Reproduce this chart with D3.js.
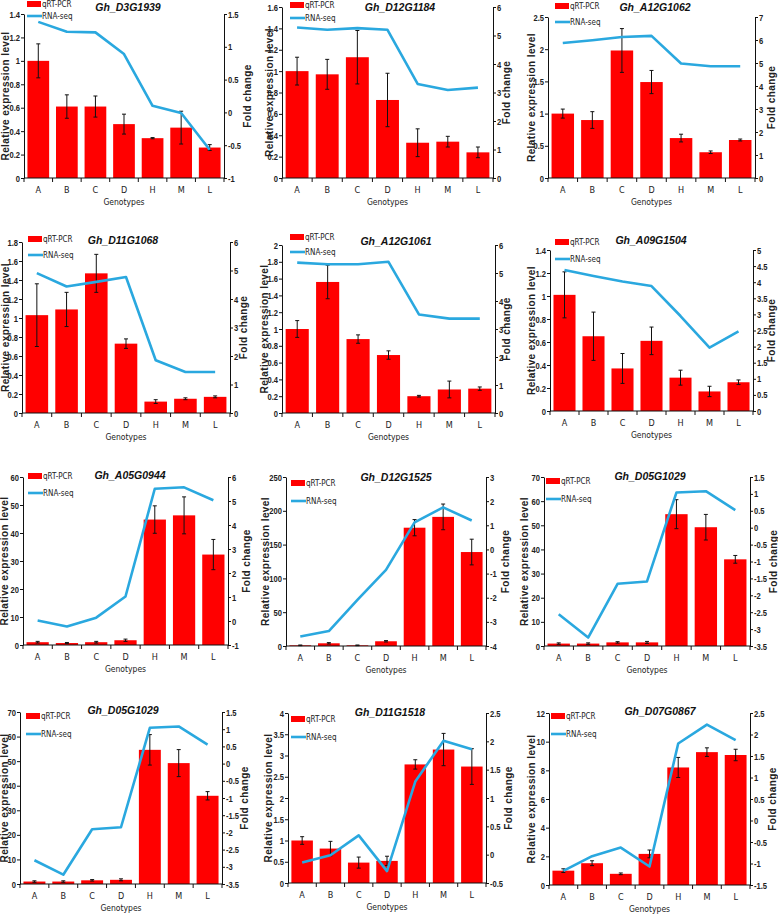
<!DOCTYPE html>
<html>
<head>
<meta charset="utf-8">
<script src="https://cdn.jsdelivr.net/npm/d3@7"></script>
<style>
  body { margin: 0; background: #fff; }
  svg { display: block; }
  .narrow { font-family: "DejaVu Sans Condensed", "Liberation Sans Narrow", sans-serif; }
</style>
</head>
<body>
<script>
// ---- data ----
const genotypes = ['A', 'B', 'C', 'D', 'H', 'M', 'L'];

const geneNames = ['Gh_D3G1939', 'Gh_D12G1184', 'Gh_A12G1062',
                   'Gh_D11G1068', 'Gh_A12G1061', 'Gh_A09G1504',
                   'Gh_A05G0944', 'Gh_D12G1525', 'Gh_D05G1029',
                   'Gh_D05G1029', 'Gh_D11G1518', 'Gh_D07G0867'];

// qRT-PCR relative expression (bars)
const qpcrMeans = [
    [1.0, 0.61, 0.61, 0.46, 0.34, 0.43, 0.26],
    [1.0, 0.97, 1.13, 0.73, 0.33, 0.34, 0.24],
    [1.0, 0.90, 1.98, 1.49, 0.62, 0.40, 0.59],
    [1.03, 1.09, 1.47, 0.73, 0.12, 0.15, 0.17],
    [1.0, 1.56, 0.88, 0.69, 0.20, 0.28, 0.29],
    [1.01, 0.65, 0.37, 0.61, 0.29, 0.17, 0.25],
    [1.0, 0.7, 1.0, 1.7, 44.8, 46.3, 32.3],
    [1.0, 4.0, 1.0, 7.0, 175, 191, 139],
    [1.0, 1.0, 1.5, 1.5, 54.6, 49.2, 35.9],
    [1.0, 1.0, 1.5, 1.7, 54.6, 49.2, 35.9],
    [1.0, 0.81, 0.48, 0.52, 2.79, 3.14, 2.74],
    [1.0, 1.52, 0.78, 2.17, 8.2, 9.27, 9.07]
];

// error bar half-lengths
const qpcrErrors = [
    [0.145, 0.10, 0.09, 0.085, 0.005, 0.14, 0.025],
    [0.13, 0.14, 0.25, 0.25, 0.13, 0.05, 0.05],
    [0.07, 0.13, 0.34, 0.18, 0.06, 0.02, 0.015],
    [0.33, 0.18, 0.20, 0.05, 0.02, 0.01, 0.01],
    [0.10, 0.20, 0.05, 0.05, 0.01, 0.10, 0.02],
    [0.20, 0.21, 0.13, 0.12, 0.065, 0.045, 0.02],
    [0.3, 0.2, 0.3, 0.4, 4.9, 6.6, 5.4],
    [0.5, 1.0, 0.5, 1.0, 12, 19, 19],
    [0.3, 0.3, 0.3, 0.4, 6.0, 5.3, 1.6],
    [0.3, 0.3, 0.3, 0.4, 6.2, 5.5, 1.7],
    [0.09, 0.17, 0.13, 0.11, 0.11, 0.38, 0.42],
    [0.13, 0.17, 0.06, 0.27, 0.7, 0.3, 0.4]
];

// RNA-seq fold change (line)
const rnaSeqFold = [
    [1.38, 1.23, 1.22, 0.89, 0.10, -0.01, -0.57],
    [5.28, 5.20, 5.26, 5.20, 3.30, 3.09, 3.17],
    [5.87, 5.99, 6.13, 6.18, 4.98, 4.86, 4.86],
    [4.91, 4.44, 4.60, 4.77, 1.85, 1.44, 1.44],
    [5.37, 5.31, 5.31, 5.40, 3.52, 3.37, 3.37],
    [4.38, 4.19, 4.02, 3.88, 2.95, 1.97, 2.47],
    [0.02, -0.23, 0.14, 1.02, 5.51, 5.57, 5.03],
    [-3.61, -3.38, -2.09, -0.85, 1.12, 1.74, 1.20],
    [-2.56, -3.25, -1.66, -1.59, 1.04, 1.08, 0.52],
    [-2.81, -3.23, -1.91, -1.85, 1.04, 1.08, 0.55],
    [-0.14, -0.01, 0.34, -0.29, 1.29, 2.01, 1.86],
    [-1.17, -0.83, -0.63, -1.07, 1.79, 2.23, 1.87]
];

// axis ranges / tick steps
const leftMax   = [1.4, 1.6, 2.5, 1.8, 2, 1.4, 60, 250, 70, 70, 4, 12];
const leftStep  = [0.2, 0.2, 0.5, 0.2, 0.2, 0.2, 10, 50, 10, 10, 0.5, 2];
const rightMin  = [-1, 0, 0, 0, 0, 0, -1, -4, -3.5, -3.5, -0.5, -1.5];
const rightMax  = [1.5, 6, 7, 6, 6, 5, 6, 3, 1.5, 1.5, 2.5, 2.5];
const rightStep = [0.5, 1, 1, 1, 1, 0.5, 1, 1, 0.5, 0.5, 0.5, 0.5];

// ---- layout (pixel boxes of each panel) ----
// plot box [left, top, right, bottom]
const plotBox = [
    [24, 14, 224, 178], [282, 7, 493, 178], [548, 17, 755, 178],
    [22, 242, 230, 413], [282, 245, 495, 413], [550, 250, 753, 411],
    [23, 477, 228, 645], [286, 477, 486, 646], [544, 477, 750, 646],
    [20, 712, 222, 884], [288, 713, 486, 883], [549, 713, 750, 885]
];
// title centre [x, y]
const titlePos = [
    [128, 7], [400, 7], [655, 7],
    [123, 240], [396, 241], [651, 240],
    [130, 475], [396, 477], [650, 476],
    [123, 710], [390, 712], [660, 711]
];
// legend [x, y of first item, y of second item]
const legendPos = [
    [27, 4, 16], [290, 5, 18], [555, 6, 22],
    [28, 239, 255], [290, 237, 252], [555, 242, 259],
    [28, 476, 493], [291, 483, 501], [546, 481, 499],
    [26, 716, 734], [291, 719, 737], [551, 716, 734]
];
const yLabelX = [5, 269, 531, 5, 264, 531, 4, 265, 524, 4, 268, 531];
const fcLabelX = [247, 506, 771, 243, 506, 771, 246, 505, 773, 244, 508, 772];

const barColor = '#ff0000';
const lineColor = '#2aa8df';

let svg = d3.select('body').append('svg')
    .attr('width', 778)
    .attr('height', 915)
    .style('background', '#fff');

function fmt(d) {
    return String(+d.toFixed(2));
}

function ticksFor(lo, hi, step) {
    let n = Math.round((hi - lo) / step);
    return d3.range(n + 1).map(k => +(lo + k * step).toFixed(4));
}

geneNames.forEach(function(gene, i) {
    let [x0, y0, x1, y1] = plotBox[i];
    let g = svg.append('g').attr('class', 'panel');

    let xScale = d3.scaleBand().domain(genotypes).range([x0, x1])
        .paddingInner(0.24).paddingOuter(0.12);
    let step = xScale.step();
    let yLeft = d3.scaleLinear().domain([0, leftMax[i]]).range([y1, y0]);
    let yRight = d3.scaleLinear().domain([rightMin[i], rightMax[i]]).range([y1, y0]);

    let data = genotypes.map((k, j) => ({
        key: k, mean: qpcrMeans[i][j], err: qpcrErrors[i][j], fold: rnaSeqFold[i][j]
    }));

    // bars
    g.selectAll('.bar').data(data).enter().append('rect')
        .attr('class', 'bar')
        .attr('x', d => xScale(d.key))
        .attr('y', d => yLeft(d.mean))
        .attr('width', xScale.bandwidth())
        .attr('height', d => y1 - yLeft(d.mean))
        .attr('fill', barColor);

    // error bars
    let eb = g.selectAll('.err').data(data).enter().append('g').attr('class', 'err')
        .attr('stroke', '#111').attr('stroke-width', 1);
    let cx = d => xScale(d.key) + xScale.bandwidth() / 2;
    eb.append('line')
        .attr('x1', cx).attr('x2', cx)
        .attr('y1', d => yLeft(d.mean - d.err)).attr('y2', d => yLeft(d.mean + d.err));
    eb.append('line')
        .attr('x1', d => cx(d) - 2).attr('x2', d => cx(d) + 2)
        .attr('y1', d => yLeft(d.mean + d.err)).attr('y2', d => yLeft(d.mean + d.err));
    eb.append('line')
        .attr('x1', d => cx(d) - 2).attr('x2', d => cx(d) + 2)
        .attr('y1', d => yLeft(d.mean - d.err)).attr('y2', d => yLeft(d.mean - d.err));

    // RNA-seq line
    let line = d3.line().x(cx).y(d => yRight(d.fold));
    g.append('path').datum(data)
        .attr('d', line)
        .attr('fill', 'none')
        .attr('stroke', lineColor)
        .attr('stroke-width', 2.6)
        .attr('stroke-linejoin', 'round');

    // left axis
    let la = g.append('g')
        .attr('transform', 'translate(' + x0 + ',0)')
        .call(d3.axisLeft(yLeft)
            .tickValues(ticksFor(0, leftMax[i], leftStep[i]))
            .tickFormat(fmt).tickSize(3).tickSizeOuter(0).tickPadding(2));
    // right axis
    let ra = g.append('g')
        .attr('transform', 'translate(' + x1 + ',0)')
        .call(d3.axisRight(yRight)
            .tickValues(ticksFor(rightMin[i], rightMax[i], rightStep[i]))
            .tickFormat(fmt).tickSize(3).tickSizeOuter(0).tickPadding(2));
    [la, ra].forEach(function(a) {
        a.attr('font-family', null).attr('font-size', null);
        // squeeze horizontally to look like a narrow face
        a.selectAll('text')
            .attr('transform', 'scale(0.8,1)')
            .style('font-family', '"Liberation Sans", Arial, sans-serif')
            .style('font-size', '9.5px')
            .style('font-weight', 'bold')
            .attr('fill', '#222');
        a.selectAll('line, path').attr('stroke', '#111');
    });

    // x axis: baseline, boundary ticks, labels
    g.append('line')
        .attr('x1', x0).attr('x2', x1).attr('y1', y1).attr('y2', y1)
        .attr('stroke', '#111');
    g.selectAll('.xtick').data(d3.range(genotypes.length + 1)).enter().append('line')
        .attr('x1', k => x0 + k * step).attr('x2', k => x0 + k * step)
        .attr('y1', y1).attr('y2', y1 + 4)
        .attr('stroke', '#111');
    g.selectAll('.xlab').data(data).enter().append('text')
        .attr('class', 'narrow')
        .attr('x', cx)
        .attr('y', y1 + 15)
        .attr('text-anchor', 'middle')
        .style('font-size', '9px')
        .attr('fill', '#222')
        .text(d => d.key);

    g.append('text')
        .attr('class', 'narrow')
        .attr('x', (x0 + x1) / 2)
        .attr('y', y1 + 27)
        .attr('text-anchor', 'middle')
        .style('font-size', '8.5px')
        .attr('fill', '#222')
        .text('Genotypes');

    // axis titles
    let midY = (y0 + y1) / 2;
    g.append('text')
        .attr('transform', 'translate(' + (yLabelX[i] + 4) + ',' + midY + ') rotate(-90)')
        .attr('text-anchor', 'middle')
        .style('font-family', '"Liberation Sans", Arial, sans-serif')
        .style('font-size', '10px')
        .style('font-weight', 'bold')
        .style('letter-spacing', '0.4px')
        .attr('fill', '#222')
        .text('Relative expression level');
    g.append('text')
        .attr('transform', 'translate(' + (fcLabelX[i] + 4) + ',' + midY + ') rotate(-90)')
        .attr('text-anchor', 'middle')
        .style('font-family', '"Liberation Sans", Arial, sans-serif')
        .style('font-size', '10px')
        .style('font-weight', 'bold')
        .style('letter-spacing', '0.4px')
        .attr('fill', '#222')
        .text('Fold change');

    // title
    g.append('text')
        .attr('x', titlePos[i][0])
        .attr('y', titlePos[i][1] + 4)
        .attr('text-anchor', 'middle')
        .style('font-family', '"Liberation Sans", Arial, sans-serif')
        .style('font-size', '10.5px')
        .style('font-weight', 'bold')
        .style('font-style', 'italic')
        .attr('fill', '#111')
        .text(gene);

    // legend
    let [lx, ly1, ly2] = legendPos[i];
    g.append('rect')
        .attr('x', lx).attr('y', ly1 - 3)
        .attr('width', 14).attr('height', 6)
        .attr('fill', barColor);
    g.append('text').attr('class', 'narrow')
        .attr('x', lx + 15).attr('y', ly1 + 3)
        .style('font-size', '8px').attr('fill', '#222')
        .text('qRT-PCR');
    g.append('line')
        .attr('x1', lx).attr('x2', lx + 15)
        .attr('y1', ly2).attr('y2', ly2)
        .attr('stroke', lineColor).attr('stroke-width', 2.6);
    g.append('text').attr('class', 'narrow')
        .attr('x', lx + 15).attr('y', ly2 + 3)
        .style('font-size', '8px').attr('fill', '#222')
        .text('RNA-seq');
});
</script>
</body>
</html>
